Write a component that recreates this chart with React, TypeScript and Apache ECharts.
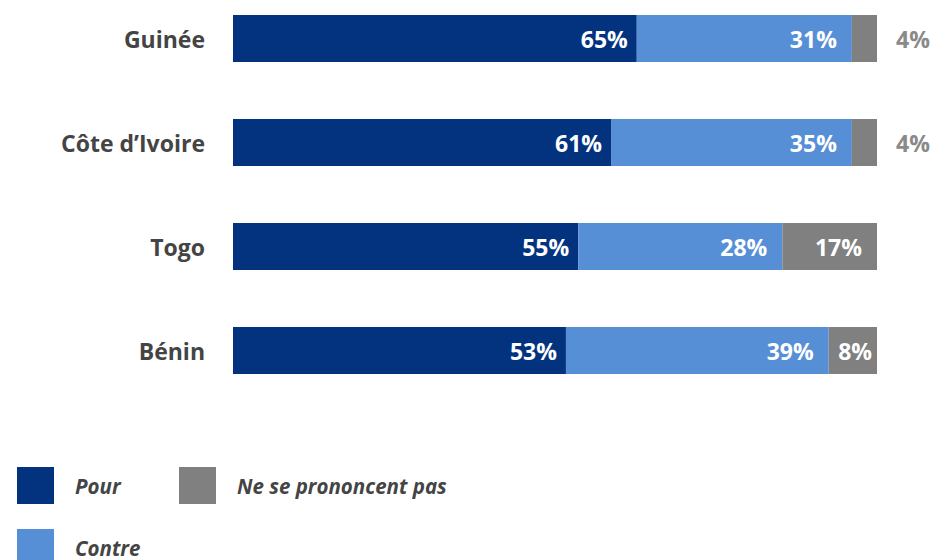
import React, { useEffect, useRef } from "react";
import * as echarts from "echarts";

const categories = ["Guinée", "Côte d’Ivoire", "Togo", "Bénin"];
// bar lengths as drawn in the picture
const pourValues = [62.7, 58.7, 53.6, 51.7];
const contreValues = [33.4, 37.4, 31.7, 40.8];
const nsppValues = [3.9, 3.9, 14.7, 7.5];
// label texts as printed on the picture
const pourLabels = [65, 61, 55, 53];
const contreLabels = [31, 35, 28, 39];
const nsppLabels = [4, 4, 17, 8];

const seriesNames = ["Pour", "Contre", "Ne se prononcent pas"];
const colors = ["#03337f", "#568fd6", "#808080"];

const FONT = "'Open Sans', sans-serif";

export default function App() {
  const ref = useRef<HTMLDivElement>(null);
  useEffect(() => {
    document.body.style.margin = "0";
    if (!ref.current) return;
    const chart = echarts.init(ref.current, null, { renderer: "svg" });
    const labelBase = {
      show: true,
      color: "#ffffff",
      fontFamily: FONT,
      fontWeight: "bold" as const,
      fontSize: 23,
    };
    const legendText = {
      color: "#444444",
      fontFamily: FONT,
      fontStyle: "italic" as const,
      fontWeight: "bold" as const,
      fontSize: 20.5,
      padding: [0, 0, 0, 16],
    };
    const legendBase = {
      icon: "rect",
      itemWidth: 37,
      itemHeight: 37,
      padding: 0,
      textStyle: legendText,
      selectedMode: false,
    };
    chart.setOption({
      animation: false,
      grid: { left: 233, right: 54, top: 38.5, height: 312 },
      xAxis: { type: "value", min: 0, max: 100, show: false },
      yAxis: {
        type: "category",
        data: categories,
        inverse: true,
        boundaryGap: false,
        axisLine: { show: false },
        axisTick: { show: false },
        splitLine: { show: false },
        axisLabel: {
          margin: 28,
          color: "#444444",
          fontFamily: FONT,
          fontWeight: "bold",
          fontSize: 23,
        },
      },
      legend: [
        { ...legendBase, data: [seriesNames[0]], left: 17, top: 467 },
        { ...legendBase, data: [seriesNames[1]], left: 17, top: 529 },
        { ...legendBase, data: [seriesNames[2]], left: 179, top: 467 },
      ],
      series: [
        {
          name: seriesNames[0],
          type: "bar",
          stack: "total",
          barWidth: 47,
          itemStyle: { color: colors[0] },
          label: {
            ...labelBase,
            position: "insideRight",
            distance: 9,
            formatter: (p: any) => pourLabels[p.dataIndex] + "%",
          },
          data: pourValues,
        },
        {
          name: seriesNames[1],
          type: "bar",
          stack: "total",
          barWidth: 47,
          itemStyle: { color: colors[1] },
          label: {
            ...labelBase,
            position: "insideRight",
            distance: 15,
            formatter: (p: any) => contreLabels[p.dataIndex] + "%",
          },
          data: contreValues,
        },
        {
          name: seriesNames[2],
          type: "bar",
          stack: "total",
          barWidth: 47,
          itemStyle: { color: colors[2] },
          label: {
            ...labelBase,
            formatter: (p: any) => nsppLabels[p.dataIndex] + "%",
          },
          data: nsppValues.map((v, i) => {
            const outside = nsppLabels[i] < 5;
            return {
              value: v,
              label: outside
                ? { position: "right", distance: 19, color: "#8a8a8a" }
                : {
                    position: "insideRight",
                    distance: nsppLabels[i] < 10 ? 5 : 15,
                    color: "#ffffff",
                  },
            };
          }),
        },
      ],
    });
    return () => chart.dispose();
  }, []);
  return <div ref={ref} style={{ width: 931, height: 560 }} />;
}
